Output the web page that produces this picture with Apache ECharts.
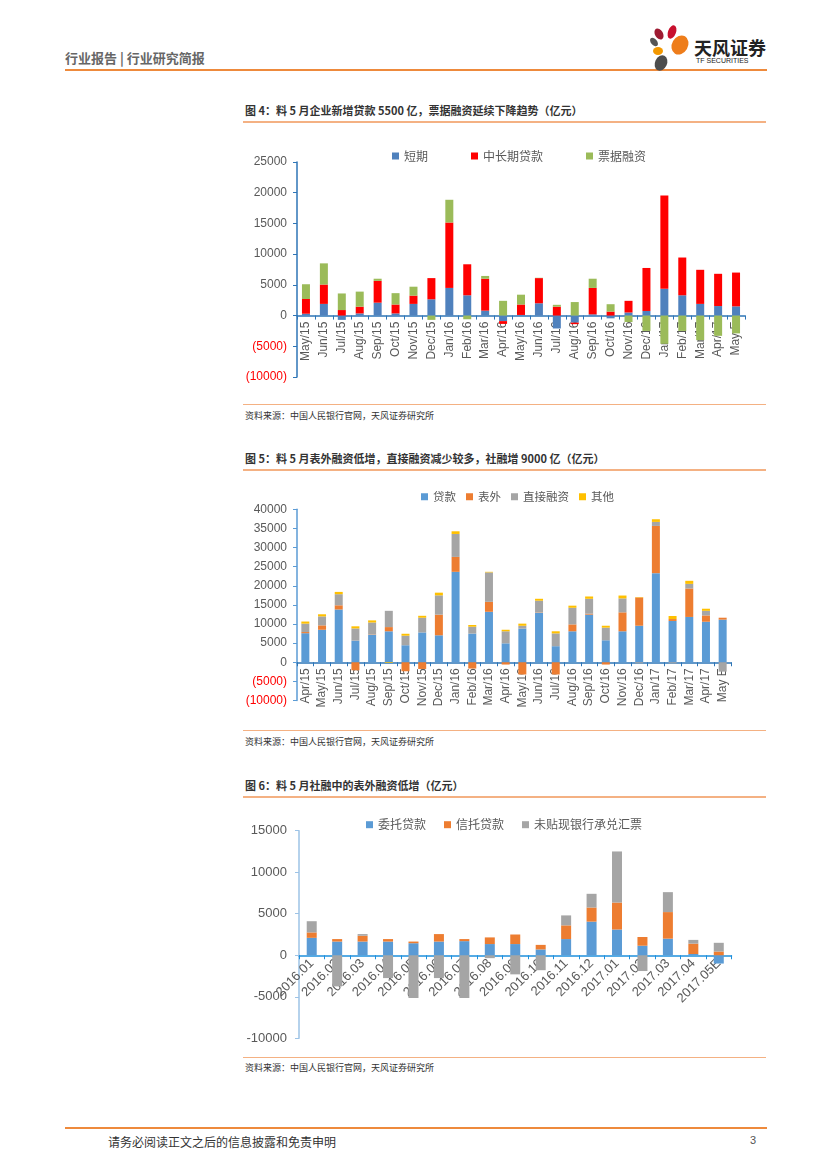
<!DOCTYPE html>
<html><head><meta charset="utf-8">
<script src="https://cdn.jsdelivr.net/npm/echarts@6/dist/echarts.min.js"></script>
<style>
html,body{margin:0;padding:0;background:#fff;}
body{width:827px;height:1169px;position:relative;overflow:hidden;font-family:"Noto Sans CJK SC","Noto Sans",sans-serif;}
.abs{position:absolute;}
.hdr{left:65px;top:48px;font-size:13px;color:#666;font-weight:bold;}
.ttl{left:245px;font-size:11px;color:#333;font-weight:bold;white-space:nowrap;}
.src{left:245px;font-size:9px;color:#333;white-space:nowrap;}
.ln{left:243px;width:523px;height:2px;background:#F4B183;}
.sln{left:243px;width:523px;height:1px;background:#F4B183;}
</style></head><body>
<div class="abs hdr">行业报告 | 行业研究简报</div>
<div class="abs" style="left:65px;top:69px;width:702px;height:2px;background:#EE8A3C;"></div>
<svg class="abs" style="left:645px;top:24px" width="50" height="50" viewBox="0 0 50 50">
<ellipse cx="14" cy="10" rx="4" ry="6" fill="#9E1B32" transform="rotate(-30 14 10)"/>
<ellipse cx="27" cy="8" rx="4" ry="7" fill="#C8102E" transform="rotate(20 27 8)"/>
<ellipse cx="35" cy="21" rx="8" ry="10" fill="#EE7D1B" transform="rotate(30 35 21)"/>
<ellipse cx="13" cy="27" rx="5" ry="4" fill="#F39800"/>
<ellipse cx="9" cy="18" rx="3" ry="5" fill="#555" transform="rotate(-40 9 18)"/>
<ellipse cx="16" cy="39" rx="6" ry="8" fill="#4D4D4D" transform="rotate(25 16 39)"/>
</svg>
<div class="abs" style="left:694px;top:34px;font-size:18px;font-weight:bold;color:#222;letter-spacing:0px;">天风证券</div>
<div class="abs" style="left:696px;top:57px;font-size:7px;color:#222;font-family:'Liberation Sans';">TF SECURITIES</div>

<div class="abs ttl" style="top:102px;">图 4：料 5 月企业新增贷款 5500 亿，票据融资延续下降趋势（亿元）</div>
<div class="abs ln" style="top:121px;"></div>
<div id="c1" class="abs" style="left:240px;top:135px;width:530px;height:265px;"></div>
<div class="abs sln" style="top:404px;"></div>
<div class="abs src" style="top:409px;">资料来源：中国人民银行官网，天风证券研究所</div>

<div class="abs ttl" style="top:450px;">图 5：料 5 月表外融资低增，直接融资减少较多，社融增 9000 亿（亿元）</div>
<div class="abs ln" style="top:469px;"></div>
<div id="c2" class="abs" style="left:240px;top:472px;width:530px;height:255px;"></div>
<div class="abs sln" style="top:730px;"></div>
<div class="abs src" style="top:735px;">资料来源：中国人民银行官网，天风证券研究所</div>

<div class="abs ttl" style="top:777px;">图 6：料 5 月社融中的表外融资低增（亿元）</div>
<div class="abs ln" style="top:796px;"></div>
<div id="c3" class="abs" style="left:240px;top:800px;width:530px;height:255px;"></div>
<div class="abs sln" style="top:1057px;"></div>
<div class="abs src" style="top:1061px;">资料来源：中国人民银行官网，天风证券研究所</div>

<div class="abs" style="left:65px;top:1127px;width:702px;height:2px;background:#EE8A3C;"></div>
<div class="abs" style="left:108px;top:1133px;font-size:12px;color:#333;">请务必阅读正文之后的信息披露和免责申明</div>
<div class="abs" style="left:750px;top:1134px;font-size:11px;color:#555;font-family:'Liberation Sans';">3</div>

<script>
// ---------- Chart 1 data ----------
const cats1 = ['May/15','Jun/15','Jul/15','Aug/15','Sep/15','Oct/15','Nov/15','Dec/15','Jan/16','Feb/16','Mar/16','Apr/16','May/16','Jun/16','Jul/16','Aug/16','Sep/16','Oct/16','Nov/16','Dec/16','Jan/17','Feb/17','Mar/17','Apr/17','May E'];
const shortTerm = [300,1900,-700,350,2100,350,1900,2650,4500,3300,800,-900,100,2000,-2100,-1150,200,-450,500,750,4350,3300,1900,1550,1500];
const midLong   = [2400,3150,900,1100,3550,1450,1350,3450,10650,5050,5200,-450,1700,4100,1450,-250,4300,650,1900,7000,15200,6150,5550,5250,5500];
const billFin   = [2400,3450,2700,2450,350,1850,1450,-700,3700,-600,450,2400,1600,50,300,2200,1500,1200,-1050,-2500,-4600,-2500,-4000,-3300,-2900];
const names1 = ['短期','中长期贷款','票据融资'];
const yTicks1 = {min:-10000,max:25000,step:5000};

// ---------- Chart 2 data ----------
const cats2 = ['Apr/15','May/15','Jun/15','Jul/15','Aug/15','Sep/15','Oct/15','Nov/15','Dec/15','Jan/16','Feb/16','Mar/16','Apr/16','May/16','Jun/16','Jul/16','Aug/16','Sep/16','Oct/16','Nov/16','Dec/16','Jan/17','Feb/17','Mar/17','Apr/17','May E'];
const loans   = [7600,8500,13800,5650,7200,8100,4450,7800,7050,23650,7500,13200,4950,8800,12950,4200,8100,12450,5750,8100,9550,23300,10800,11850,10600,11150];
const offBS   = [300,1150,1100,-2100,100,1100,-2350,-1750,5400,3900,-1650,2600,-600,-3200,100,-3200,1800,250,-600,4950,7400,12350,500,7450,1650,500];
const direct  = [2200,2350,2900,3200,3100,4250,2500,3850,5050,6000,1800,7700,3150,750,3050,3350,4350,3900,3300,3650,-300,1050,-300,1200,1200,-2450];
const others  = [550,550,600,550,550,-200,500,500,700,700,450,150,400,550,500,550,550,600,500,750,100,700,800,800,550,0];
const names2 = ['贷款','表外','直接融资','其他'];
const yTicks2 = {min:-10000,max:40000,step:5000};

// ---------- Chart 3 data ----------
const cats3 = ['2016.01','2016.02','2016.03','2016.04','2016.05','2016.06','2016.07','2016.08','2016.09','2016.10','2016.11','2016.12','2017.01','2017.02','2017.03','2017.04','2017.05E'];
const entrusted = [2100,1650,1650,1650,1450,1650,1700,1350,1350,700,1950,4050,3100,1150,2000,150,-1000];
const trust     = [650,300,700,300,200,900,250,800,1150,550,1650,1700,3250,1050,3200,1250,450];
const bankBills = [1350,-3750,200,-2750,-5150,-2750,-5150,-350,-2300,-1800,1200,1650,6150,-1900,2400,450,1050];
const names3 = ['委托贷款','信托贷款','未贴现银行承兑汇票'];
const yTicks3 = {min:-10000,max:15000,step:5000};

const numFont = 'Liberation Sans';
const gray = '#595959';

function mk(id, cfg){
  const ch = echarts.init(document.getElementById(id), null, {renderer:'canvas'});
  const series = cfg.series.map((s,i)=>({
    name:s.name, type:'bar', stack:'t', data:s.data, barWidth:cfg.barWidth,
    itemStyle:{color:s.color}, emphasis:{disabled:true}, animation:false
  }));
  const grid = Object.assign({containLabel:false, outerBoundsMode:'none'}, cfg.grid);
  // place the category axis at the zero line (axis offset from grid bottom)
  const zeroOffset = -cfg.grid.height * (0 - cfg.y.min) / (cfg.y.max - cfg.y.min);
  ch.setOption({
    animation:false,
    legend:{left:cfg.legendLeft, top:cfg.legendTop, itemWidth:7, itemHeight:7, itemGap:cfg.legendGap, icon:'rect',
      textStyle:{fontSize:cfg.legendFont, color:gray, fontFamily:'Noto Sans CJK SC'},
      data:cfg.series.map(s=>s.name)},
    grid:grid,
    xAxis:{type:'category', data:cfg.cats, position:'bottom', offset:zeroOffset,
      axisLine:{onZero:false, lineStyle:{color:cfg.xLine, width:1.5}},
      axisTick:{show:true, alignWithLabel:false, length:4, lineStyle:{color:cfg.xLine}},
      axisLabel:{interval:0, rotate:cfg.rotate, color:gray, fontSize:cfg.xFont, fontFamily:numFont, margin:cfg.xMargin, hideOverlap:false}},
    yAxis:{type:'value', min:cfg.y.min, max:cfg.y.max, interval:cfg.y.step,
      axisLine:{show:true, lineStyle:{color:cfg.yLine, width:1.5}},
      axisTick:{show:true, length:4, lineStyle:{color:cfg.yLine}},
      splitLine:{show:false},
      axisLabel:{color:gray, fontSize:cfg.yFont, fontFamily:numFont, margin:cfg.yMargin,
        formatter:cfg.yFmt, rich:{n:{color:'#FF0000', fontSize:cfg.yFont, fontFamily:numFont}, p:{color:gray, fontSize:cfg.yFont, fontFamily:numFont}}}},
    series:series
  });
}
const parenFmt = v => v<0 ? '{n|(' + Math.abs(v) + ')}' : '{p|' + v + '}';

mk('c1', {
  cats:cats1, barWidth:8,
  series:[{name:names1[0],data:shortTerm,color:'#4F81BD'},{name:names1[1],data:midLong,color:'#FF0000'},{name:names1[2],data:billFin,color:'#9BBB59'}],
  legendLeft:147, legendTop:10, legendGap:43, legendFont:12,
  grid:{left:57, top:27, width:448, height:215},
  xLine:'#2E75B6', yLine:'#2E75B6', rotate:90, xFont:12, xMargin:6,
  y:yTicks1, yFont:12, yMargin:10, yFmt:parenFmt
});
mk('c2', {
  cats:cats2, barWidth:8,
  series:[{name:names2[0],data:loans,color:'#5B9BD5'},{name:names2[1],data:offBS,color:'#ED7D31'},{name:names2[2],data:direct,color:'#A5A5A5'},{name:names2[3],data:others,color:'#FFC000'}],
  legendLeft:176, legendTop:14, legendGap:10, legendFont:11.5,
  grid:{left:57, top:37.3, width:434, height:191.2},
  xLine:'#2E75B6', yLine:'#5B9BD5', rotate:90, xFont:12, xMargin:6,
  y:yTicks2, yFont:12, yMargin:10, yFmt:parenFmt
});
mk('c3', {
  cats:cats3, barWidth:10,
  series:[{name:names3[0],data:entrusted,color:'#5B9BD5'},{name:names3[1],data:trust,color:'#ED7D31'},{name:names3[2],data:bankBills,color:'#A5A5A5'}],
  legendLeft:121, legendTop:13.7, legendGap:18, legendFont:12,
  grid:{left:59, top:30.7, width:432.5, height:207.6},
  xLine:'#1E90DD', yLine:'#9DC3E6', rotate:45, xFont:13, xMargin:6,
  y:yTicks3, yFont:13, yMargin:12, yFmt:v => '{p|' + v + '}'
});
</script>
</body></html>
